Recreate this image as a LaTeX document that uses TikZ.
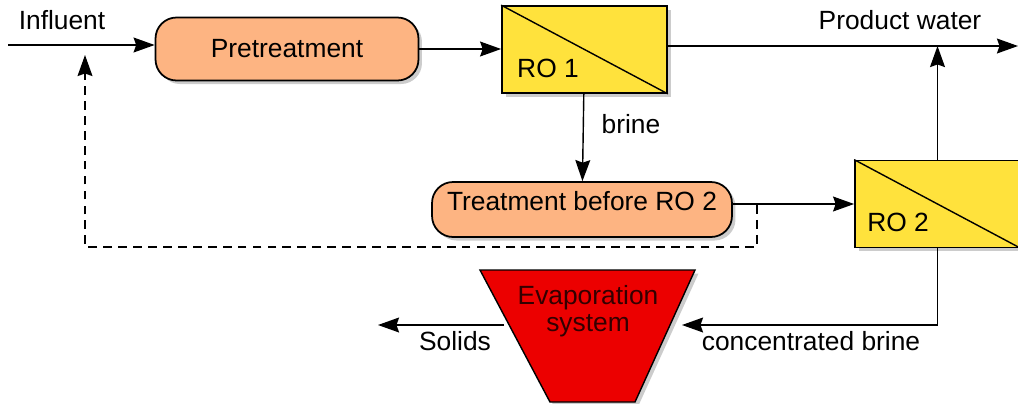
\documentclass[tikz,border=0pt]{standalone}
\usepackage{fontspec}
\setmainfont{Liberation Sans}
\usetikzlibrary{shadows,arrows.meta}
\definecolor{pretreat}{RGB}{253,180,130}
\definecolor{membrane}{RGB}{255,226,60}
\definecolor{evapred}{RGB}{236,0,0}

\begin{document}
\begin{tikzpicture}[x=0.02cm,y=-0.02cm,
  every node/.style={font=\fontsize{15}{15.5}\selectfont},
  shade/.style={drop shadow={opacity=0.4,shadow xshift=2pt,shadow yshift=-2pt}},
  stage/.style={draw,line width=1pt,fill=pretreat,rounded corners=0.42cm,inner sep=0pt,shade},
  membrane/.style={draw,line width=1pt,fill=membrane,minimum width=3.3cm,minimum height=1.74cm,inner sep=0pt,shade},
  flow/.style={-{Stealth[length=12pt,width=8.5pt,inset=1.5pt]},line width=0.8pt}]
  \useasboundingbox (0,0) rectangle (1018,403);

  \node[stage,minimum width=5.26cm,minimum height=1.26cm] (pre) at (287,49) {Pretreatment};
  \node[membrane] (ro1) at (584.5,49.5) {};
  \node[stage,minimum width=6cm,minimum height=1.1cm] (treat) at (582,209.5)
    {\raisebox{0.17cm}[\height][\depth]{Treatment before RO 2}};
  \node[membrane] (ro2) at (937.5,204) {};

  % evaporation system
  \filldraw[fill=evapred,line width=0.8pt,shade] (480,270) -- (695,270) -- (635,402) -- (550,402) -- cycle;

  \draw[line width=0.8pt] (ro1.north west) -- (ro1.south east);
  \draw[line width=0.8pt] (ro2.north west) -- (ro2.south east);
  \node (ro1txt) at (548,68) {RO 1};
  \node (ro2txt) at (898,222) {RO 2};
  \node[align=center,text=black!80!red] (evaptxt) at (588,311) {Evaporation\\system};

  \coordinate (inflow) at (8,45);
  \coordinate (prodout) at (1018,46);
  \coordinate (recyc) at (757,205);
  \coordinate (recycend) at (85,55);
  \coordinate (evapin) at (682,325);
  \coordinate (evapout) at (504,325);
  \coordinate (solids) at (378,325);

  \node (influent) at (62,20) {Influent};
  \node (product) at (900,20) {Product water};
  \node (brine) at (631,124) {brine};
  \node (conc) at (811,341) {concentrated brine};
  \node (solidstxt) at (455,341) {Solids};

  \path[flow]
  (inflow) edge (inflow -| pre.west)
  (pre) edge (pre -| ro1.west)
  (ro1.east |- prodout) edge (prodout)
  (ro1) edge (treat)
  (treat.east |- ro2) edge (ro2.west)
  (ro2.north) edge (ro2.north |- prodout)
  (evapout) edge (solids)
  ;
  \draw[flow] (ro2.south) |- (evapin);
  \draw[flow,dash pattern=on 5pt off 3.5pt] (recyc) -- (757,247) -| (recycend);
\end{tikzpicture}
\end{document}
